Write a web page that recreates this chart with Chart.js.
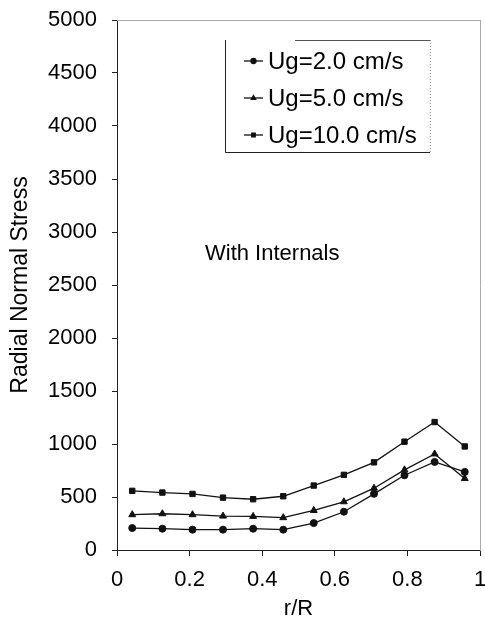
<!DOCTYPE html>
<html>
<head>
<meta charset="utf-8">
<script src="https://cdn.jsdelivr.net/npm/chart.js@4/dist/chart.umd.min.js"></script>
<style>
  html, body { margin: 0; padding: 0; background: #fff; }
  canvas { display: block; }
</style>
</head>
<body>
<canvas id="c" width="485" height="631"></canvas>
<script>
// Radial positions (r/R)
const rR = [0.042, 0.125, 0.208, 0.292, 0.375, 0.458, 0.542, 0.625, 0.708, 0.792, 0.875, 0.958];
// Radial normal stress for each superficial gas velocity
const ug2 = [207, 201, 192, 192, 201, 192, 254, 361, 530, 705, 831, 737];
const ug5 = [333, 342, 333, 320, 317, 305, 373, 455, 583, 756, 906, 674];
const ug10 = [558, 542, 529, 494, 479, 507, 608, 709, 827, 1022, 1207, 977];
const seriesLabels = ['Ug=2.0 cm/s', 'Ug=5.0 cm/s', 'Ug=10.0 cm/s'];
const annotationText = 'With Internals';

const FONT = '"Liberation Sans", Arial, sans-serif';
const pts = vals => vals.map((v, i) => ({ x: rR[i], y: v }));

function series(label, vals, style, radius) {
  return {
    label: label,
    data: pts(vals),
    borderColor: '#111',
    backgroundColor: '#111',
    borderWidth: 1.3,
    pointStyle: style,
    pointRadius: radius,
    pointBorderWidth: 1,
    pointBorderColor: '#111',
    pointBackgroundColor: '#111',
    tension: 0
  };
}

// Boxed legend and the in-plot caption
const overlay = {
  id: 'overlay',
  afterDraw(chart) {
    const ctx = chart.ctx;
    ctx.save();
    // legend frame
    const bx = 225, by = 40, bw = 205, bh = 112;
    ctx.strokeStyle = '#222';
    ctx.lineWidth = 1;
    ctx.beginPath();
    ctx.moveTo(bx + 0.5, by);
    ctx.lineTo(bx + 0.5, by + bh + 0.5);
    ctx.lineTo(bx + bw, by + bh + 0.5);
    ctx.stroke();
    ctx.strokeStyle = '#555';
    ctx.beginPath();
    ctx.moveTo(bx + 70, by + 0.5);
    ctx.lineTo(bx + bw, by + 0.5);
    ctx.stroke();
    ctx.setLineDash([1, 2]);
    ctx.strokeStyle = '#999';
    ctx.beginPath();
    ctx.moveTo(bx + bw + 0.5, by);
    ctx.lineTo(bx + bw + 0.5, by + bh);
    ctx.stroke();
    ctx.setLineDash([]);

    const rows = [61, 98, 135];
    chart.data.datasets.forEach((ds, i) => {
      const y = rows[i];
      ctx.strokeStyle = '#111';
      ctx.lineWidth = 1.3;
      ctx.beginPath();
      ctx.moveTo(244, y);
      ctx.lineTo(263, y);
      ctx.stroke();
      ctx.fillStyle = '#111';
      Chart.helpers.drawPoint(ctx, { pointStyle: ds.pointStyle, radius: 2.5, borderWidth: 1 }, 253.5, y);
      ctx.fillStyle = '#000';
      ctx.font = '24px ' + FONT;
      ctx.textBaseline = 'alphabetic';
      ctx.textAlign = 'left';
      ctx.fillText(ds.label, 268, y + 8);
    });

    ctx.font = '22px ' + FONT;
    ctx.fillStyle = '#000';
    ctx.textBaseline = 'alphabetic';
    ctx.textAlign = 'left';
    ctx.fillText(annotationText, 205, 260);
    ctx.restore();
  }
};

new Chart(document.getElementById('c'), {
  type: 'line',
  data: {
    datasets: [
      series(seriesLabels[0], ug2, 'circle', 3.5),
      series(seriesLabels[1], ug5, 'triangle', 4),
      series(seriesLabels[2], ug10, 'rect', 3.8)
    ]
  },
  options: {
    responsive: false,
    animation: false,
    layout: { padding: { top: 20, right: 4, bottom: 0, left: 0 } },
    plugins: { legend: { display: false }, tooltip: { enabled: false } },
    scales: {
      x: {
        type: 'linear',
        min: 0, max: 1,
        afterFit(s) { s.height = 81; s.paddingLeft = 0; s.paddingRight = 0; },
        ticks: {
          stepSize: 0.2, color: '#000', padding: 11,
          font: { family: FONT, size: 22 },
          callback: v => String(Math.round(v * 10) / 10)
        },
        grid: { drawOnChartArea: false, tickLength: 6, color: '#222' },
        border: { color: '#222', width: 1 },
        title: { display: true, text: 'r/R', color: '#000', padding: { top: 0, bottom: 9 }, font: { family: FONT, size: 22 } }
      },
      y: {
        min: 0, max: 5000,
        afterFit(s) { s.width = 117; s.paddingTop = 0; s.paddingBottom = 0; },
        ticks: {
          stepSize: 500, color: '#000', padding: 15,
          font: { family: FONT, size: 22 },
          callback: v => String(v)
        },
        grid: { drawOnChartArea: false, tickLength: 5, color: '#222' },
        border: { color: '#222', width: 1 },
        title: { display: true, text: 'Radial Normal Stress', color: '#000', padding: { top: 7, bottom: 0 }, font: { family: FONT, size: 23 } }
      },
      xTop: {
        type: 'linear', position: 'top', min: 0, max: 1,
        afterFit(s) { s.height = 0; },
        ticks: { display: false },
        grid: { display: false },
        border: { color: '#aaa', width: 1, dash: [1, 2] }
      },
      yRight: {
        position: 'right', min: 0, max: 5000,
        afterFit(s) { s.width = 0; },
        ticks: { display: false },
        grid: { display: false },
        border: { color: '#aaa', width: 1, dash: [1, 2] }
      }
    }
  },
  plugins: [overlay]
});
</script>
</body>
</html>
